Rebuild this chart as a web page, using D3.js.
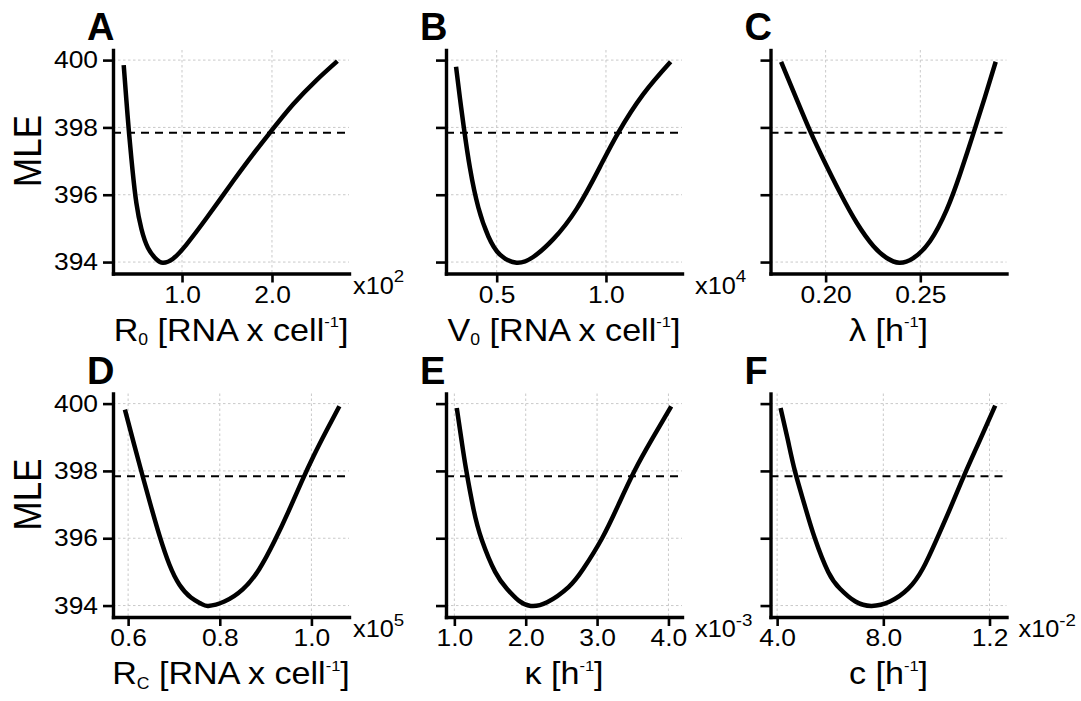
<!DOCTYPE html>
<html>
<head>
<meta charset="utf-8">
<script src="https://cdn.jsdelivr.net/npm/d3@7"></script>
<style>
  html, body { margin: 0; padding: 0; background: #fff; }
  svg { display: block; }
</style>
</head>
<body>
<svg id="chart" width="1081" height="701"></svg>
<script>
// ---- Profile likelihood data (MLE vs parameter value) ----
const panelLetters = ["A", "B", "C", "D", "E", "F"];
const yTicks = [394, 396, 398, 400];
const yTickLabels = ["394", "396", "398", "400"];
const threshold = 397.84;

// R0 [x10^2]
const r0X = [0.352, 0.382, 0.411, 0.449, 0.493, 0.549, 0.622, 0.716, 0.789, 0.900, 1.049, 1.271, 1.567, 1.789, 1.982, 2.233, 2.493, 2.727];
const r0Y = [399.85, 398.80, 397.84, 396.76, 395.75, 394.98, 394.42, 394.08, 393.98, 394.10, 394.52, 395.30, 396.40, 397.20, 397.86, 398.68, 399.40, 399.97];
const r0Ticks = [1.0, 2.0];
const r0TickLabels = ["1.0", "2.0"];

// V0 [x10^4]
const v0X = [0.314, 0.332, 0.350, 0.378, 0.416, 0.462, 0.515, 0.591, 0.667, 0.759, 0.866, 0.972, 1.056, 1.170, 1.296];
const v0Y = [399.80, 398.86, 397.98, 396.78, 395.62, 394.76, 394.22, 393.98, 394.15, 394.68, 395.58, 396.82, 397.84, 398.98, 399.95];
const v0Ticks = [0.5, 1.0];
const v0TickLabels = ["0.5", "1.0"];

// lambda [h^-1]
const lambdaX = [0.1765, 0.1849, 0.1919, 0.1989, 0.2077, 0.2165, 0.2253, 0.2323, 0.2389, 0.2463, 0.2551, 0.2639, 0.2709, 0.2779, 0.2841, 0.2898];
const lambdaY = [399.95, 398.81, 397.88, 397.04, 396.05, 395.16, 394.47, 394.12, 393.98, 394.12, 394.62, 395.55, 396.60, 397.80, 398.90, 399.95];
const lambdaTicks = [0.20, 0.25];
const lambdaTickLabels = ["0.20", "0.25"];

// Rc [x10^5]
const rcX = [0.593, 0.612, 0.630, 0.648, 0.668, 0.690, 0.712, 0.737, 0.760, 0.775, 0.810, 0.850, 0.886, 0.920, 0.950, 0.978, 1.005, 1.033, 1.061];
const rcY = [399.82, 398.84, 397.93, 397.04, 396.10, 395.22, 394.62, 394.24, 394.05, 393.99, 394.12, 394.48, 395.08, 395.93, 396.80, 397.66, 398.45, 399.20, 399.92];
const rcTicks = [0.6, 0.8, 1.0];
const rcTickLabels = ["0.6", "0.8", "1.0"];

// kappa [x10^-3]
const kappaX = [1.034, 1.100, 1.164, 1.270, 1.385, 1.572, 1.736, 1.900, 2.070, 2.300, 2.600, 2.810, 3.070, 3.300, 3.524, 3.780, 4.039];
const kappaY = [399.87, 398.92, 398.05, 396.85, 395.95, 395.00, 394.50, 394.15, 393.99, 394.10, 394.55, 395.10, 396.00, 397.00, 398.00, 398.98, 399.92];
const kappaTicks = [1, 2, 3, 4];
const kappaTickLabels = ["1.0", "2.0", "3.0", "4.0"];

// c
const cX = [4.128, 4.400, 4.668, 5.030, 5.420, 5.925, 6.370, 6.950, 7.560, 8.250, 8.940, 9.490, 10.000, 10.500, 11.030, 11.600, 12.215];
const cY = [399.87, 398.93, 398.00, 397.00, 396.00, 395.00, 394.50, 394.12, 393.99, 394.12, 394.50, 395.10, 395.95, 396.85, 397.84, 398.85, 399.94];
const cTicks = [4, 8, 12];
const cTickLabels = ["4.0", "8.0", "1.2"];

// Axis titles: segments with optional sub/superscript
const xTitles = [
  [["R"], ["0", "sub"], [" [RNA x cell"], ["-1", "sup"], ["]"]],
  [["V"], ["0", "sub"], [" [RNA x cell"], ["-1", "sup"], ["]"]],
  [["λ [h"], ["-1", "sup"], ["]"]],
  [["R"], ["C", "sub"], [" [RNA x cell"], ["-1", "sup"], ["]"]],
  [["κ [h"], ["-1", "sup"], ["]"]],
  [["c [h"], ["-1", "sup"], ["]"]]
];
const multipliers = [["x10", "2"], ["x10", "4"], null, ["x10", "5"], ["x10", "-3"], ["x10", "-2"]];
const yTitle = "MLE";

// ---- Layout ----
const FONT = "'Liberation Sans', Arial, Helvetica, sans-serif";
const S = 1.1;                      // horizontal glyph stretch used for all text
const colX = [113, 446, 770.5];
const rowTop = [50, 393.5];
const plotW = 236, plotH = 223.5;
const yDomain = [393.66, 400.3];

const panels = [
  { xs: r0X, ys: r0Y, dom: [0.233, 2.856], ticks: r0Ticks, labels: r0TickLabels, multOff: 4 },
  { xs: v0X, ys: v0Y, dom: [0.268, 1.348], ticks: v0Ticks, labels: v0TickLabels, multOff: 13 },
  { xs: lambdaX, ys: lambdaY, dom: [0.1709, 0.2955], ticks: lambdaTicks, labels: lambdaTickLabels, multOff: 0 },
  { xs: rcX, ys: rcY, dom: [0.567, 1.082], ticks: rcTicks, labels: rcTickLabels, multOff: 4 },
  { xs: kappaX, ys: kappaY, dom: [0.883, 4.19], ticks: kappaTicks, labels: kappaTickLabels, multOff: 13 },
  { xs: cX, ys: cY, dom: [3.75, 12.64], ticks: cTicks, labels: cTickLabels, multOff: 12 }
];

const svg = d3.select("#chart");

// text placed at (x, y) with the horizontal stretch applied
function stretchedText(parent, x, y, extra) {
  return parent.append("g")
    .attr("transform", `translate(${x},${y}) scale(${S},1)${extra || ""}`)
    .append("text").attr("font-family", FONT).attr("fill", "#000");
}

panels.forEach((p, i) => {
  const col = i % 3, row = Math.floor(i / 3);
  const x0 = colX[col], y0 = rowTop[row];
  const x = d3.scaleLinear().domain(p.dom).range([x0, x0 + plotW]);
  const y = d3.scaleLinear().domain(yDomain).range([y0 + plotH, y0]);
  const g = svg.append("g");

  // grid
  const grid = g.append("g").attr("stroke", "#c9c9c9").attr("stroke-width", 1)
    .attr("stroke-dasharray", "2.5,2.5").attr("fill", "none");
  grid.selectAll("line.h").data(yTicks).join("line")
    .attr("x1", x0).attr("x2", x0 + plotW)
    .attr("y1", d => y(d)).attr("y2", d => y(d));
  grid.selectAll("line.v").data(p.ticks).join("line")
    .attr("x1", d => x(d)).attr("x2", d => x(d))
    .attr("y1", y0).attr("y2", y0 + plotH);

  // threshold
  g.append("line")
    .attr("x1", x0).attr("x2", x0 + plotW)
    .attr("y1", y(threshold)).attr("y2", y(threshold))
    .attr("stroke", "#000").attr("stroke-width", 2).attr("stroke-dasharray", "8,6");

  // profile curve
  const pts = p.xs.map((v, k) => [v, p.ys[k]]);
  g.append("path").datum(pts)
    .attr("fill", "none").attr("stroke", "#000").attr("stroke-width", 4.5)
    .attr("stroke-linejoin", "round")
    .attr("d", d3.line().x(d => x(d[0])).y(d => y(d[1])).curve(d3.curveNatural));

  // y axis
  const ya = g.append("g").attr("transform", `translate(${x0},0)`)
    .call(d3.axisLeft(y).tickValues(yTicks).tickSize(10).tickSizeOuter(0).tickPadding(5)
      .tickFormat((d, k) => col === 0 ? yTickLabels[k] : ""));
  // x axis
  const xa = g.append("g").attr("transform", `translate(0,${y0 + plotH})`)
    .call(d3.axisBottom(x).tickValues(p.ticks).tickSize(9).tickSizeOuter(0).tickPadding(3)
      .tickFormat((d, k) => p.labels[k]));
  [ya, xa].forEach(a => {
    a.select(".domain").attr("stroke-width", 3.4).attr("stroke-linecap", "square");
    a.selectAll(".tick line").attr("stroke-width", 2.6);
    a.selectAll(".tick text").attr("font-family", FONT).attr("font-size", 24).attr("fill", "#000")
      .attr("x", function () { return (+this.getAttribute("x") || 0) / S; })
      .attr("transform", `scale(${S},1)`);
  });

  // x-axis title
  const t = stretchedText(g, x0 + plotW / 2, y0 + plotH + 67)
    .attr("text-anchor", "middle").attr("font-size", 31);
  xTitles[i].forEach(seg => {
    const ts = t.append("tspan").text(seg[0]);
    if (seg[1] === "sub") ts.attr("font-size", 16).attr("baseline-shift", "-32%");
    if (seg[1] === "sup") ts.attr("font-size", 15).attr("baseline-shift", "90%");
  });

  // multiplier
  if (multipliers[i]) {
    const m = stretchedText(g, x0 + plotW + p.multOff, y0 + plotH + 20).attr("font-size", 23);
    m.append("tspan").text(multipliers[i][0]);
    m.append("tspan").text(multipliers[i][1]).attr("font-size", 17).attr("baseline-shift", "65%");
  }

  // panel letter
  svg.append("text")
    .attr("x", x0 - 26).attr("y", row === 0 ? 39.5 : 384)
    .attr("font-family", FONT).attr("font-size", 38).attr("font-weight", "bold")
    .text(panelLetters[i]);

  // y-axis title
  if (col === 0) {
    stretchedText(svg, 41, y0 + 101, " rotate(-90)")
      .attr("text-anchor", "middle").attr("font-size", 35)
      .text(yTitle);
  }
});
</script>
</body>
</html>
